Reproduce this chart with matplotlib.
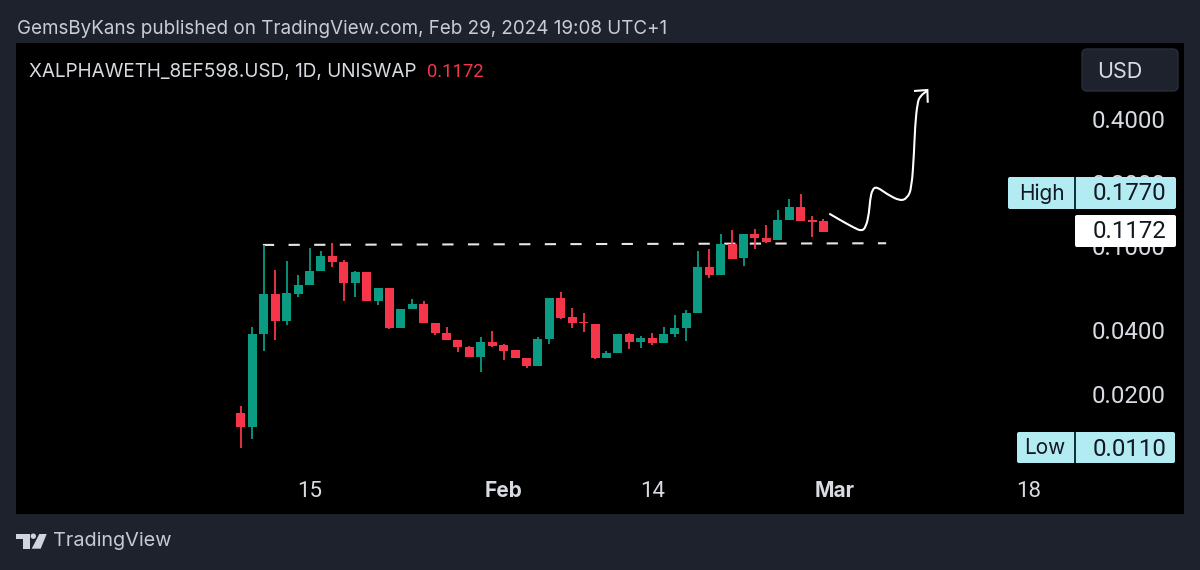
import matplotlib
matplotlib.use('Agg')
import matplotlib.dates as mdates
import matplotlib.pyplot as plt
import numpy as np
import pandas as pd
from matplotlib.patches import Circle, FancyBboxPatch, PathPatch, Polygon, Rectangle
from matplotlib.path import Path
from matplotlib.ticker import NullLocator

plt.rcParams['font.family'] = ['Inter', 'DejaVu Sans']

dates = pd.date_range('2024-01-09', periods=52)
opens = [.01617, .01385, .0383, .0591, .0440, .0595, .0654, .0759, .0895, .0837,
         .0668, .0756, .0551, .0631, .0410, .0503, .0533, .0430, .0388, .0357,
         .0332, .0298, .0350, .0340, .0321, .0294, .0271, .0363, .0569, .0460,
         .0438, .0426, .0295, .0312, .0383, .0351, .0367, .0346, .0381, .0409,
         .0483, .0794, .0733, .1023, .0873, .1141, .1095, .1065, .1329, .1536,
         .1325, .1314]
closes = [.01385, .0383, .0591, .0440, .0597, .0654, .0759, .0895, .0837, .0668,
          .0756, .0551, .0631, .0410, .0503, .0533, .0430, .0388, .0357, .0332,
          .0298, .0350, .0337, .0319, .0294, .0270, .0363, .0569, .0456, .0432,
          .0430, .0295, .0312, .0383, .0351, .0367, .0346, .0381, .0409, .0483,
          .0794, .0731, .1027, .0871, .1141, .1088, .1048, .1329, .1536, .1314,
          .1304, .1172]
highs = [.01751, .0412, .1012, .0773, .0847, .0731, .0982, .0951, .1031, .0859,
         .0764, .0756, .0631, .0631, .0503, .0559, .0551, .0430, .0414, .0359,
         .0336, .0372, .0395, .0344, .0321, .0294, .0372, .0569, .0604, .0507,
         .0480, .0426, .0318, .0383, .0387, .0375, .0388, .0414, .0469, .0498,
         .0948, .0968, .1138, .1192, .1141, .1201, .1254, .1488, .1671, .1770,
         .1385, .1348]
lows = [.0110, .0122, .0318, .0359, .0422, .0574, .0654, .0759, .0793, .0547,
        .0576, .0547, .0525, .0405, .0407, .0503, .0430, .0380, .0357, .0316,
        .0298, .0254, .0333, .0287, .0294, .0264, .0271, .0343, .0452, .0410,
        .0393, .0291, .0295, .0312, .0326, .0330, .0338, .0346, .0369, .0353,
        .0483, .0708, .0733, .0871, .0804, .0971, .1037, .1065, .1329, .1314,
        .1107, .1172]

# hand drawn stuff on the chart, days counted from the first candle
level_days = [1.92, 56.49]
level_prices = [.1012, .1031]
sketch_days = [51.51, 52.45, 53.61, 54.35, 54.73, 54.99, 55.08, 55.28, 55.67,
               56.54, 57.71, 58.34, 58.72, 58.93, 59.02, 59.22, 59.46, 60.10]
sketch_prices = [.1424, .1329, .1227, .1175, .1235, .1430, .1653, .1860, .1910,
                 .1765, .1635, .1686, .1878, .2751, .3678, .4748, .5140, .5448]
head_days = [59.02, 60.10, 60.13]
head_prices = [.5436, .5489, .4832]

price_ticks = [0.4, 0.2, 0.1, 0.04, 0.02]
date_ticks = ['2024-01-15', '2024-02-01', '2024-02-14', '2024-03-01', '2024-03-18']
date_labels = ['15', 'Feb', '14', 'Mar', '18']

GREEN = '#0b9a82'
RED = '#f5364a'
PANEL = '#1e222d'
TEXT = '#d8dbe2'
BADGE = '#b2ebf2'
NUM_FONT = ['Roboto', 'DejaVu Sans']

fig = plt.figure(figsize=(12, 5.7), dpi=100, facecolor=PANEL)
ax = fig.add_axes([16 / 1200, 1 - 514 / 570, 1168 / 1200, 471 / 570], facecolor='black')

start = mdates.date2num(dates[0])
xs = mdates.date2num(dates)
colors = [GREEN if c >= o else RED for o, c in zip(opens, closes)]
tops = [max(o, c) for o, c in zip(opens, closes)]
bottoms = [min(o, c) for o, c in zip(opens, closes)]
heights = [t - b for t, b in zip(tops, bottoms)]

ax.plot([start + d for d in level_days], level_prices, color='#e6e6e6', lw=1.5,
        dashes=(5.4, 6.9), zorder=1)
ax.vlines(xs, lows, highs, colors=colors, lw=1.3, zorder=2)
ax.bar(xs, heights, bottom=bottoms, width=0.79, color=colors, zorder=3)

# rounded pen stroke: the picked points are the control points, midpoints lie on the curve
px = np.array([start + d for d in sketch_days])
py = np.array(sketch_prices)
mx = (px[:-1] + px[1:]) / 2
my = np.sqrt(py[:-1] * py[1:])
verts = [(px[0], py[0])]
codes = [Path.MOVETO]
for i in range(1, len(px) - 1):
    verts += [(px[i], py[i]), (mx[i], my[i])]
    codes += [Path.CURVE3, Path.CURVE3]
verts.append((px[-1], py[-1]))
codes.append(Path.LINETO)
ax.add_patch(PathPatch(Path(verts, codes), fc='none', ec='white', lw=1.5, zorder=4))
ax.plot([start + d for d in head_days], head_prices, color='white', lw=1.5,
        solid_joinstyle='miter', zorder=4)

ax.set_yscale('log')
ax.set_xlim(start - 19.70, start + 82.57)
ax.set_ylim(0.00537, 0.917)
ax.yaxis.tick_right()
ax.yaxis.set_minor_locator(NullLocator())
ax.set_yticks(price_ticks, [f'{p:.4f}' for p in price_ticks])
ax.set_xticks(mdates.date2num(pd.to_datetime(date_ticks)), date_labels)
ax.xaxis.set_minor_locator(NullLocator())
ax.tick_params(axis='y', length=0, pad=-66.5, labelsize=17.3, labelcolor=TEXT)
ax.tick_params(axis='x', length=0, pad=-23.5, labelsize=16, labelcolor=TEXT)
for label in ax.get_yticklabels():
    label.set_fontfamily(NUM_FONT)
for label in ax.get_xticklabels():
    if label.get_text() in ('Feb', 'Mar'):
        label.set_fontweight('bold')
        label.set_fontsize(15)
    else:
        label.set_fontfamily(NUM_FONT)
for spine in ax.spines.values():
    spine.set_visible(False)

# page furniture in pixel coordinates
over = fig.add_axes([0, 0, 1, 1], facecolor='none')
over.set_xlim(0, 1200)
over.set_ylim(570, 0)
over.axis('off')


def badge(x0, y0, x1, y1, face, edge='none', radius=2):
    over.add_patch(FancyBboxPatch((x0 + radius, y0 + radius), x1 - x0 - 2 * radius, y1 - y0 - 2 * radius,
                                  boxstyle=f'round,pad={radius},rounding_size={radius}',
                                  fc=face, ec=edge, lw=1))


over.text(17, 29.5, 'GemsByKans published on TradingView.com, Feb 29, 2024 19:08 UTC+1',
          color='#c9ccd4', fontsize=13.55, va='center')
over.text(29, 72, 'XALPHAWETH_8EF598.USD, 1D, UNISWAP', color=TEXT, fontsize=13.65, va='center')
over.text(427, 72, '0.1172', color=RED, fontsize=13.2, va='center', family=NUM_FONT)

badge(1082, 49, 1178, 91, PANEL, '#2a2e39', radius=5)
over.text(1097, 71.5, 'USD', color=TEXT, fontsize=15.5, va='center')

badge(1008, 177, 1176, 209, BADGE)
over.add_patch(Rectangle((1074, 177), 1.5, 32, fc='#10333a'))
over.text(1042, 193.5, 'High', color='#131722', fontsize=15, va='center', ha='center')
over.text(1166, 194, '0.1770', color='#131722', fontsize=17.3, va='center', ha='right', family=NUM_FONT)

badge(1075, 215, 1176, 247, 'white')
over.text(1166, 232, '0.1172', color='#131722', fontsize=17.3, va='center', ha='right', family=NUM_FONT)

badge(1017, 432, 1175, 463, BADGE)
over.add_patch(Rectangle((1074, 432), 1.5, 31, fc='#10333a'))
over.text(1045, 447.5, 'Low', color='#131722', fontsize=15, va='center', ha='center')
over.text(1166, 449, '0.0110', color='#131722', fontsize=17.3, va='center', ha='right', family=NUM_FONT)

# logo
logo = '#d1d4dc'
over.add_patch(Polygon([(16, 534), (30, 534), (30, 548.7), (22.7, 548.7), (22.7, 539.3), (16, 539.3)], fc=logo))
over.add_patch(Circle((33.3, 536.2), 2.7, fc=logo))
over.add_patch(Polygon([(39.3, 534), (46.7, 534), (40.7, 548.7), (31.7, 548.7)], fc=logo))
over.text(53, 541.5, 'TradingView', color='#c5cad6', fontsize=14.3, va='center')

fig.savefig('out.png', dpi=100, facecolor=PANEL)
